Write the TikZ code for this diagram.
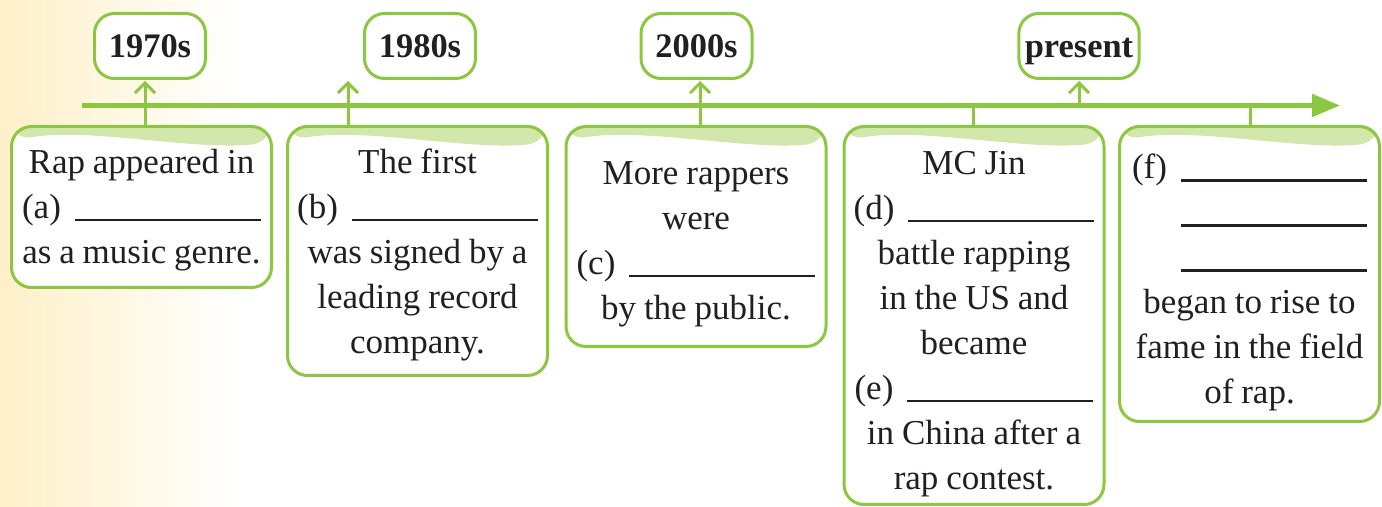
\documentclass[tikz,border=0pt]{standalone}
\usepackage{fontspec}
\setmainfont{Liberation Serif}[WordSpace=0.9]
\usetikzlibrary{arrows.meta,calc,positioning}
\definecolor{linegreen}{HTML}{8DC63F}
\definecolor{bandgreen}{HTML}{D2E7AC}
\definecolor{inkgray}{HTML}{231F20}
\definecolor{paleyellow}{HTML}{FEF0C8}
\newcommand{\answerline}{\rule[-1.5pt]{93pt}{1.1pt}}
\newcommand{\lbl}[1]{#1\hspace{7pt}\answerline}
\tikzset{
  year/.style = {draw=linegreen, line width=1.5pt, fill=white, rounded corners=10pt,
    minimum width=55.5pt, minimum height=32.5pt, inner sep=3pt,
    text height=13pt, text depth=1pt,
    font=\bfseries\fontsize{17.2pt}{20pt}\selectfont, text=inkgray},
  event/.style = {draw=linegreen, line width=1.5pt, fill=white, rounded corners=10pt,
    minimum width=130pt, text width=124pt, inner sep=3pt, align=flush center, anchor=north,
    font=\fontsize{17.5pt}{22.5pt}\selectfont, text=inkgray,
    execute at begin node={\rule{0pt}{#1}},
    path picture={
      \coordinate (bw) at (path picture bounding box.north west);
      \coordinate (be) at (path picture bounding box.north east);
      \fill[bandgreen] (bw) -- (be) -- ($(be)+(0pt,-8pt)$)
        .. controls ($(bw)!0.7!(be)+(0pt,-12pt)$) and ($(bw)!0.3!(be)+(0pt,-0.5pt)$)
        .. ($(bw)+(0pt,-7pt)$) -- cycle;
    }},
  event/.default = 12pt,
  axis/.style = {linegreen, line width=2.5pt, -{Triangle[length=14pt,width=11pt]}},
  up/.style = {linegreen, line width=1.5pt, -{Straight Barb[length=5pt,width=10pt]}, shorten >=0.5pt},
  stub/.style = {linegreen, line width=1.5pt}
}
\begin{document}
\begin{tikzpicture}[x=0.5pt,y=-0.5pt]
\useasboundingbox (0,0) rectangle (1382,507);
\fill[left color=paleyellow, right color=white] (0,0) rectangle (240,507);

% years
\node[year] (y1) at (150,46) {1970s};
\node[year] (y2) at (420,46) {1980s};
\node[year] (y3) at (696.5,46) {2000s};
\node[year] (y4) at (1079,46) {present};

% events
\node[event=14.8pt, minimum height=80.5pt] (e1) at (141.5,125)
  {Rap appeared in\\\lbl{(a)}\\as a music genre.};
\node[event=15.8pt, minimum height=124.5pt] (e2) at (417.5,125)
  {The first\\\lbl{(b)}\\was signed by a\\leading record\\company.};
\node[event=18.8pt, minimum height=110pt] (e3) at (696,125)
  {More rappers\\were\\\lbl{(c)}\\by the public.};
\node[event=19.8pt, minimum height=189pt] (e4) at (974,125)
  {MC Jin\\\lbl{(d)}\\battle rapping\\in the US and\\became\\\lbl{(e)}\\in China after a\\rap contest.};
\node[event=20.8pt, minimum height=147.5pt] (e5) at (1249.5,125)
  {\lbl{(f)}\\\lbl{\phantom{(f)}}\\\lbl{\phantom{(f)}}\\began to rise to\\fame in the field\\of rap.};

% time axis
\coordinate (ax0) at (82,105.5);
\coordinate (ax1) at (1340,105.5);
\coordinate (t1) at (145,105.5);
\coordinate (t2) at (348,105.5);
\coordinate (t3) at (700,105.5);
\coordinate (t4) at (1079,105.5);
\coordinate (t5) at (973,105.5);
\coordinate (t6) at (1250,105.5);
\draw[axis] (ax0) -- (ax1);

\draw[up] (t1) -- (t1 |- y1.south);
\draw[up] (t2) -- (t2 |- y2.south);
\draw[up] (t3) -- (t3 |- y3.south);
\draw[up] (t4) -- (t4 |- y4.south);

\draw[stub] (t1) -- (t1 |- e1.north);
\draw[stub] (t2) -- (t2 |- e2.north);
\draw[stub] (t3) -- (t3 |- e3.north);
\draw[stub] (t5) -- (t5 |- e4.north);
\draw[stub] (t6) -- (t6 |- e5.north);
\end{tikzpicture}
\end{document}
